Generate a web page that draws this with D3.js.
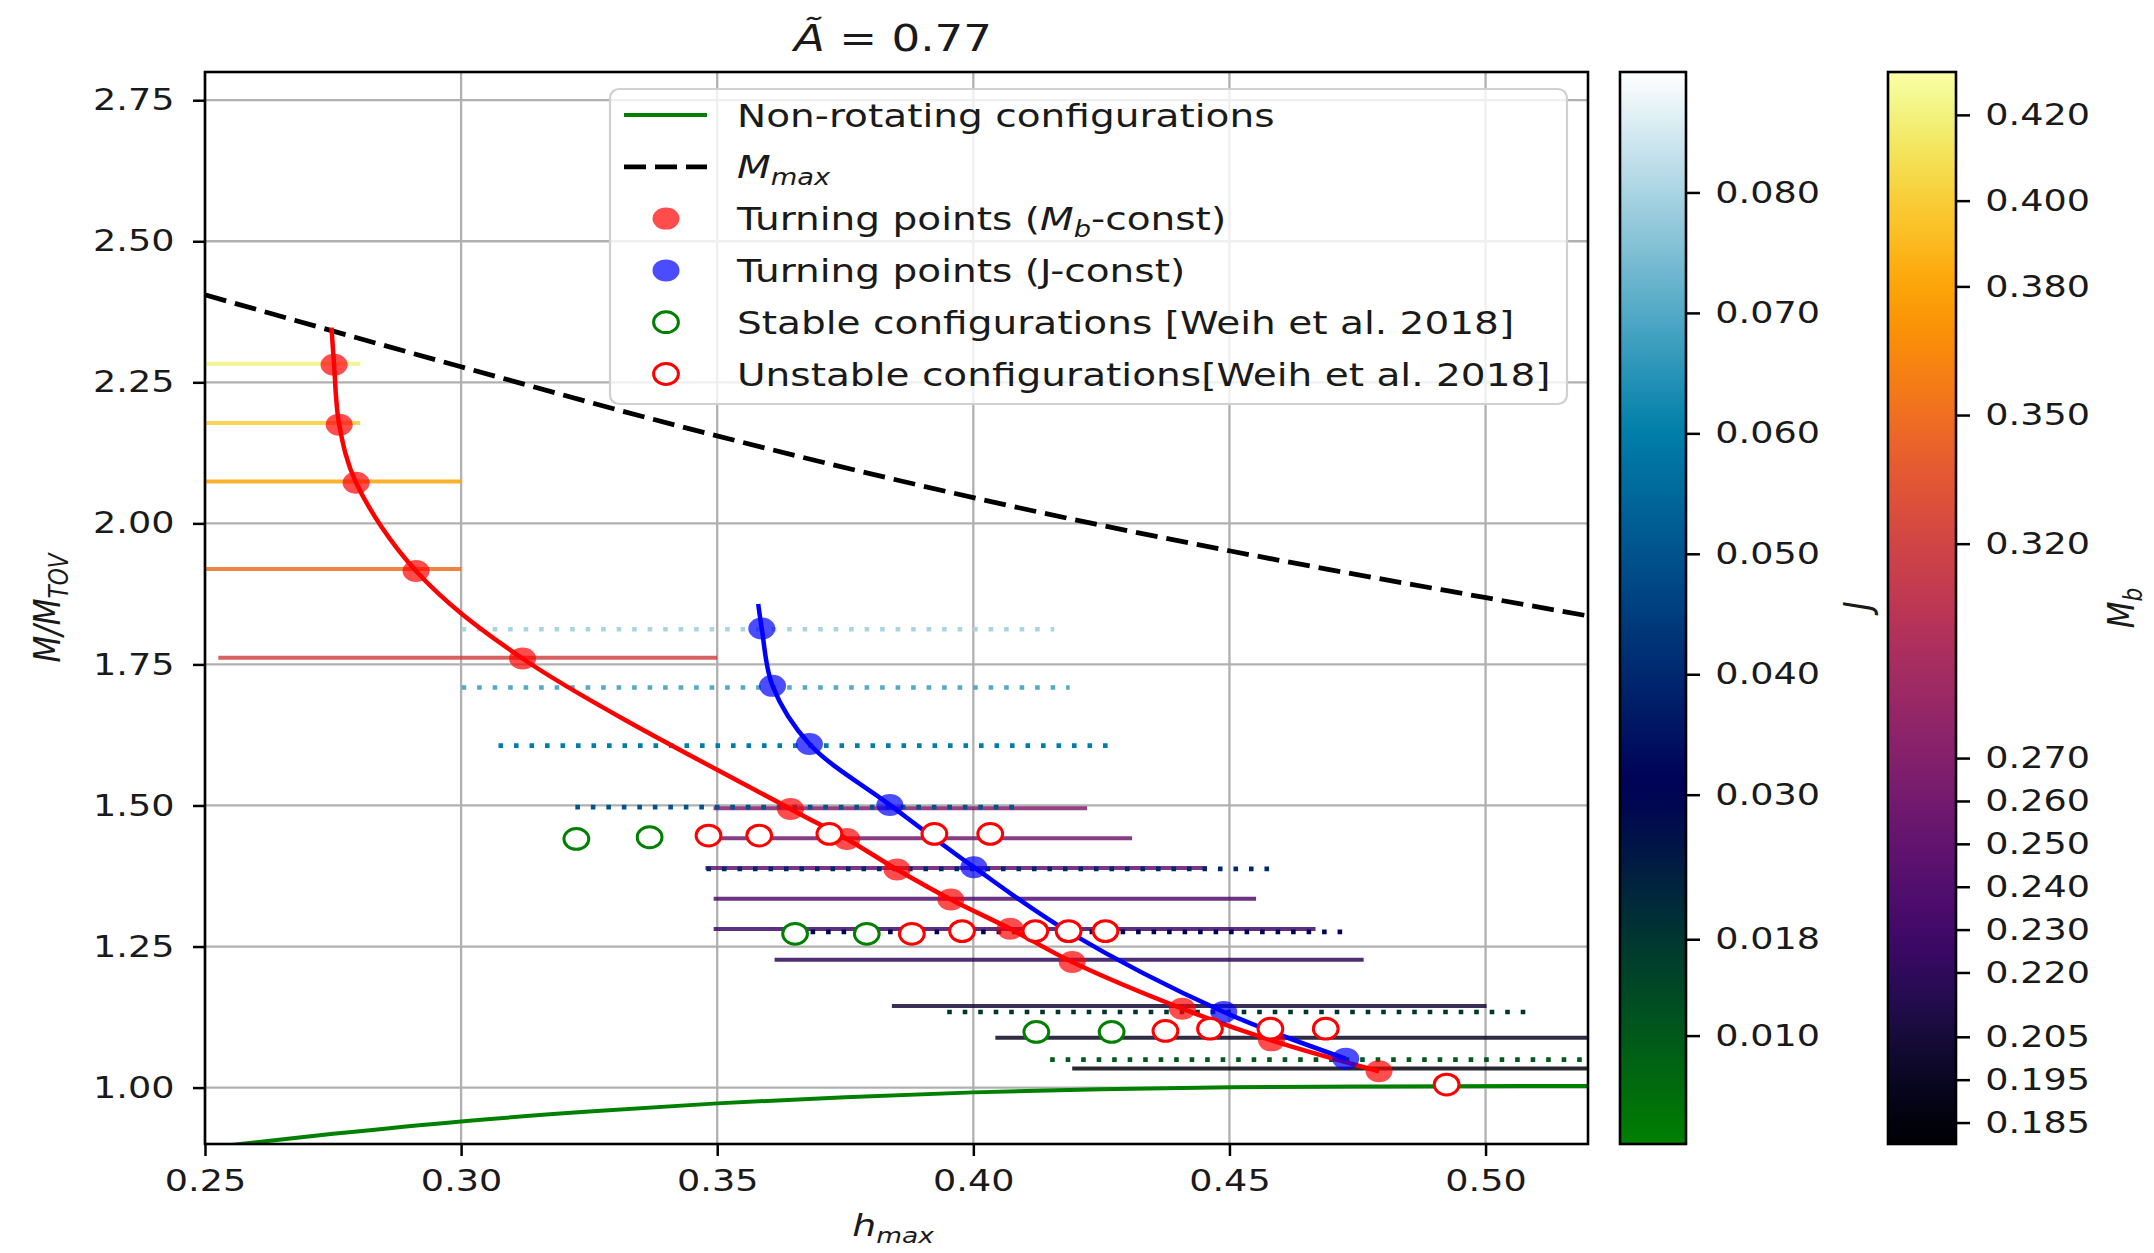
<!DOCTYPE html>
<html>
<head>
<meta charset="utf-8">
<script src="https://cdn.jsdelivr.net/npm/d3@7"></script>
<style>
  html, body { margin: 0; padding: 0; background: #fff; }
  svg { display: block; font-family: "DejaVu Sans", sans-serif; }
</style>
</head>
<body>
<svg id="canvas" width="2154" height="1253"></svg>
<script>
// Axis ticks
const xTicks = [0.25, 0.30, 0.35, 0.40, 0.45, 0.50];
const yTicks = [1.00, 1.25, 1.50, 1.75, 2.00, 2.25, 2.50, 2.75];
const jTicks = [0.080, 0.070, 0.060, 0.050, 0.040, 0.030, 0.018, 0.010];
const mbTicks = [0.420, 0.400, 0.380, 0.350, 0.320, 0.270, 0.260, 0.250, 0.240, 0.230, 0.220, 0.205, 0.195, 0.185];

// Constant baryon mass sequences (one per Mb tick): M/M_TOV level and h_max range
const mbMass = [2.283, 2.178, 2.074, 1.919, 1.762, 1.495, 1.442, 1.389, 1.3345, 1.281, 1.2265, 1.1446, 1.0885, 1.0336];
const mbFrom = [0.24, 0.24, 0.24, 0.24, 0.2526, 0.3493, 0.3483, 0.3477, 0.3493, 0.3493, 0.3612, 0.3841, 0.4043, 0.4193];
const mbTo = [0.2803, 0.2803, 0.300, 0.300, 0.350, 0.4222, 0.431, 0.4456, 0.4552, 0.4668, 0.4762, 0.5002, 0.53, 0.53];

// Constant angular momentum sequences (one per J tick)
const jMass = [1.8124, 1.709, 1.606, 1.497, 1.3876, 1.276, 1.134, 1.0496];
const jFrom = [0.3001, 0.3001, 0.3073, 0.3223, 0.3479, 0.3652, 0.3949, 0.415];
const jTo = [0.4158, 0.4188, 0.4264, 0.4082, 0.458, 0.474, 0.5078, 0.53];

// Turning points, Mb-const (red) and J-const (blue)
const tpMbH = [0.2752, 0.2762, 0.2795, 0.2912, 0.3120, 0.3643, 0.3753, 0.3851, 0.3956, 0.4072, 0.4193, 0.4408, 0.4582, 0.4792];
const tpMbM = [2.281, 2.175, 2.072, 1.9156, 1.7605, 1.4938, 1.4407, 1.3864, 1.3333, 1.2814, 1.2225, 1.1398, 1.0837, 1.0289];
const tpMbTop = [0.2747, 2.347];
const tpJH = [0.3587, 0.3608, 0.368, 0.3837, 0.4001, 0.4186, 0.4489, 0.4727];
const tpJM = [1.8136, 1.712, 1.609, 1.501, 1.3906, 1.276, 1.134, 1.0513];
const tpJTop = [0.358, 1.857];

// Non-rotating configurations
const nrH = [0.25, 0.275, 0.30, 0.325, 0.35, 0.375, 0.40, 0.425, 0.45, 0.48, 0.52];
const nrM = [0.893, 0.918, 0.940, 0.9575, 0.972, 0.983, 0.9915, 0.997, 1.0005, 1.002, 1.003];

// Maximum mass line
const mmH = [0.25, 0.2998, 0.3421, 0.4237, 0.4502, 0.4998, 0.52];
const mmM = [2.405, 2.278, 2.1735, 1.999, 1.951, 1.8687, 1.836];

// Weih et al. 2018 configurations
const stH = [0.3225, 0.3368, 0.3652, 0.3792, 0.4123, 0.4270];
const stM = [1.4407, 1.4437, 1.2726, 1.2726, 1.0986, 1.0986];
const unH = [0.3483, 0.3582, 0.3719, 0.3924, 0.4033, 0.3880, 0.3978, 0.4121, 0.4186, 0.4258, 0.4375, 0.4462, 0.458, 0.4688, 0.4924];
const unM = [1.4466, 1.4466, 1.4496, 1.4496, 1.4496, 1.2726, 1.2773, 1.2773, 1.2773, 1.2773, 1.1004, 1.1044, 1.1044, 1.1044, 1.0053];

// Layout
const W = 2154, H = 1253;
const SX = 1.22; // horizontal stretch of the text in the reference
const plot = { left: 205, right: 1588, top: 72, bottom: 1144 };
const jBar = { left: 1620, right: 1686 };
const mbBar = { left: 1888, right: 1956 };

const svg = d3.select("#canvas");
svg.append("rect").attr("width", W).attr("height", H).attr("fill", "#fff");

const x = d3.scaleLinear().domain([0.25, 0.52]).range([plot.left, plot.right]);
const y = d3.scaleLinear().domain([0.9, 2.8]).range([plot.bottom, plot.top]);
const jScale = d3.scaleLinear().domain([0.001, 0.090]).range([plot.bottom, plot.top]);
const mbScale = d3.scaleLinear().domain([0.18, 0.43]).range([plot.bottom, plot.top]);

// matplotlib "ocean" colormap
const ocean = (t) => {
  const c = (v) => Math.max(0, Math.min(1, v));
  return d3.rgb(255 * c(3 * t - 2), 255 * c(Math.abs((3 * t - 1) / 2)), 255 * c(t)).formatHex();
};
const jColor = (d) => ocean((d - 0.001) / (0.090 - 0.001));
const mbColor = (d) => d3.interpolateInferno((d - 0.18) / 0.25);

const defs = svg.append("defs");
defs.append("clipPath").attr("id", "clip").append("rect")
  .attr("x", plot.left).attr("y", plot.top)
  .attr("width", plot.right - plot.left).attr("height", plot.bottom - plot.top);

// Rich text with italics / subscripts
const richText = (sel, parts, size) => {
  let shift = 0;
  parts.forEach((p) => {
    const ts = sel.append("tspan").text(p.t);
    if (p.it) ts.attr("font-style", "italic");
    const target = p.sub ? size * 0.22 : 0;
    if (target !== shift) {
      ts.attr("dy", target - shift);
      shift = target;
    }
    if (p.sub) ts.attr("font-size", size * 0.7);
  });
};

// Grid
const grid = svg.append("g").attr("stroke", "#b0b0b0").attr("stroke-width", 2.3);
grid.selectAll("line.gx").data(xTicks).join("line").attr("class", "gx")
  .attr("x1", (d) => x(d)).attr("x2", (d) => x(d))
  .attr("y1", plot.top).attr("y2", plot.bottom);
grid.selectAll("line.gy").data(yTicks).join("line").attr("class", "gy")
  .attr("x1", plot.left).attr("x2", plot.right)
  .attr("y1", (d) => y(d)).attr("y2", (d) => y(d));

const layer = svg.append("g").attr("clip-path", "url(#clip)");

// Mb-const sequences
const mbSeq = mbTicks.map((mb, i) => ({ mb, m: mbMass[i], h0: mbFrom[i], h1: mbTo[i] }));
layer.selectAll("line.mb").data(mbSeq).join("line").attr("class", "mb")
  .attr("x1", (d) => x(d.h0)).attr("x2", (d) => x(d.h1))
  .attr("y1", (d) => y(d.m)).attr("y2", (d) => y(d.m))
  .attr("stroke", (d) => mbColor(d.mb))
  .attr("stroke-width", 4)
  .attr("stroke-opacity", 0.85);

// J-const sequences
const jSeq = jTicks.map((j, i) => ({ j, m: jMass[i], h0: jFrom[i], h1: jTo[i] }));
layer.selectAll("line.js").data(jSeq).join("line").attr("class", "js")
  .attr("x1", (d) => x(d.h0)).attr("x2", (d) => x(d.h1))
  .attr("y1", (d) => y(d.m)).attr("y2", (d) => y(d.m))
  .attr("stroke", (d) => jColor(d.j))
  .attr("stroke-width", 4.6)
  .attr("stroke-dasharray", "4.6,10.9");

// Non-rotating and Mmax
const smooth = d3.line().x((d) => x(d[0])).y((d) => y(d[1])).curve(d3.curveMonotoneX);
layer.append("path").datum(nrH.map((h, i) => [h, nrM[i]]))
  .attr("d", smooth).attr("fill", "none").attr("stroke", "green").attr("stroke-width", 4);
layer.append("path").datum(mmH.map((h, i) => [h, mmM[i]]))
  .attr("d", smooth).attr("fill", "none").attr("stroke", "black")
  .attr("stroke-width", 4.8).attr("stroke-dasharray", "22,9");

// Turning point curves
const spline = d3.line().x((d) => x(d[0])).y((d) => y(d[1])).curve(d3.curveCatmullRom.alpha(0.5));
const mbPts = tpMbH.map((h, i) => [h, tpMbM[i]]);
const jPts = tpJH.map((h, i) => [h, tpJM[i]]);
layer.append("path").datum([tpMbTop, ...mbPts])
  .attr("d", spline).attr("fill", "none").attr("stroke", "red").attr("stroke-width", 4.5);
layer.append("path").datum([tpJTop, ...jPts])
  .attr("d", spline).attr("fill", "none").attr("stroke", "blue").attr("stroke-width", 4.5);

// Filled markers
const RX = 13.5, RY = 11;
const ORX = 12.4, ORY = 10.4;
layer.selectAll("ellipse.tpj").data(jPts).join("ellipse").attr("class", "tpj")
  .attr("cx", (d) => x(d[0])).attr("cy", (d) => y(d[1]))
  .attr("rx", RX).attr("ry", RY).attr("fill", "blue").attr("fill-opacity", 0.7);
layer.selectAll("ellipse.tpm").data(mbPts).join("ellipse").attr("class", "tpm")
  .attr("cx", (d) => x(d[0])).attr("cy", (d) => y(d[1]))
  .attr("rx", RX).attr("ry", RY).attr("fill", "red").attr("fill-opacity", 0.7);

// Open markers
layer.selectAll("ellipse.st").data(stH.map((h, i) => [h, stM[i]])).join("ellipse").attr("class", "st")
  .attr("cx", (d) => x(d[0])).attr("cy", (d) => y(d[1]))
  .attr("rx", ORX).attr("ry", ORY).attr("fill", "#fff").attr("stroke", "green").attr("stroke-width", 3);
layer.selectAll("ellipse.un").data(unH.map((h, i) => [h, unM[i]])).join("ellipse").attr("class", "un")
  .attr("cx", (d) => x(d[0])).attr("cy", (d) => y(d[1]))
  .attr("rx", ORX).attr("ry", ORY).attr("fill", "#fff").attr("stroke", "red").attr("stroke-width", 3);

// Axes
const FONT = 30;
const styleAxis = (g) => {
  g.select(".domain").remove();
  g.selectAll(".tick line").attr("stroke", "#000").attr("stroke-width", 2.5);
  g.selectAll(".tick text").attr("font-size", FONT).attr("fill", "#1a1a1a")
    .attr("font-family", "DejaVu Sans").attr("transform", `scale(${SX},1)`);
};
svg.append("g").attr("transform", `translate(0,${plot.bottom})`)
  .call(d3.axisBottom(x).tickValues(xTicks).tickFormat(d3.format(".2f")).tickSize(12).tickPadding(14))
  .call(styleAxis);
svg.append("g").attr("transform", `translate(${plot.left},0)`)
  .call(d3.axisLeft(y).tickValues(yTicks).tickFormat(d3.format(".2f")).tickSize(12).tickPadding(13))
  .call(styleAxis);

svg.append("rect").attr("x", plot.left).attr("y", plot.top)
  .attr("width", plot.right - plot.left).attr("height", plot.bottom - plot.top)
  .attr("fill", "none").attr("stroke", "#000").attr("stroke-width", 2.6);

// Colorbars
const colorbar = (id, bar, scale, interp, ticks) => {
  const grad = defs.append("linearGradient").attr("id", id)
    .attr("x1", 0).attr("y1", 1).attr("x2", 0).attr("y2", 0);
  d3.range(0, 1.0001, 0.02).forEach((t) => {
    grad.append("stop").attr("offset", t).attr("stop-color", interp(t));
  });
  svg.append("rect").attr("x", bar.left).attr("y", plot.top)
    .attr("width", bar.right - bar.left).attr("height", plot.bottom - plot.top)
    .attr("fill", `url(#${id})`).attr("stroke", "#000").attr("stroke-width", 2.6);
  svg.append("g").attr("transform", `translate(${bar.right},0)`)
    .call(d3.axisRight(scale).tickValues(ticks).tickFormat(d3.format(".3f")).tickSize(14).tickPadding(10))
    .call(styleAxis);
};
colorbar("gradJ", jBar, jScale, ocean, jTicks);
colorbar("gradMb", mbBar, mbScale, d3.interpolateInferno, mbTicks);

// Title and axis labels
const label = (tx, ty, rot, parts, size) => {
  const t = svg.append("text")
    .attr("transform", rot
      ? `translate(${tx},${ty}) rotate(-90) scale(1,${SX})`
      : `translate(${tx},${ty}) scale(${SX},1)`)
    .attr("text-anchor", "middle").attr("font-size", size).attr("fill", "#1a1a1a");
  richText(t, parts, size);
};
label(893, 51, false, [{ t: "Ã", it: 1 }, { t: " = 0.77" }], 37);
label(893, 1236, false, [{ t: "h", it: 1 }, { t: "max", it: 1, sub: 1 }], 31);
label(60, 608, true, [{ t: "M/M", it: 1 }, { t: "TOV", it: 1, sub: 1 }], 31);
label(1870, 606, true, [{ t: "J", it: 1 }], 31);
label(2134, 608, true, [{ t: "M", it: 1 }, { t: "b", it: 1, sub: 1 }], 31);

// Legend
const legendBox = { x: 610, y: 89, w: 957, h: 315 };
const LFONT = 32;
const legendItems = [
  { kind: "line", color: "green", parts: [{ t: "Non-rotating configurations" }] },
  { kind: "dash", color: "black", parts: [{ t: "M", it: 1 }, { t: "max", it: 1, sub: 1 }] },
  { kind: "dot", color: "red", parts: [{ t: "Turning points (" }, { t: "M", it: 1 }, { t: "b", it: 1, sub: 1 }, { t: "-const)" }] },
  { kind: "dot", color: "blue", parts: [{ t: "Turning points (J-const)" }] },
  { kind: "ring", color: "green", parts: [{ t: "Stable configurations [Weih et al. 2018]" }] },
  { kind: "ring", color: "red", parts: [{ t: "Unstable configurations[Weih et al. 2018]" }] },
];
const legend = svg.append("g");
legend.append("rect").attr("x", legendBox.x).attr("y", legendBox.y)
  .attr("width", legendBox.w).attr("height", legendBox.h).attr("rx", 9)
  .attr("fill", "#fff").attr("fill-opacity", 0.8).attr("stroke", "#d0d0d0").attr("stroke-width", 2.2);

const rows = legend.selectAll("g.row").data(legendItems).join("g").attr("class", "row")
  .attr("transform", (d, i) => `translate(0,${legendBox.y + 26 + i * 51.8})`);
rows.each(function (d) {
  const g = d3.select(this);
  if (d.kind === "line" || d.kind === "dash") {
    g.append("line").attr("x1", 624).attr("x2", 707).attr("y1", 0).attr("y2", 0)
      .attr("stroke", d.color)
      .attr("stroke-width", d.kind === "dash" ? 4.8 : 4)
      .attr("stroke-dasharray", d.kind === "dash" ? "22,9" : null);
  } else if (d.kind === "dot") {
    g.append("ellipse").attr("cx", 666).attr("cy", 0).attr("rx", RX).attr("ry", RY)
      .attr("fill", d.color).attr("fill-opacity", 0.7);
  } else {
    g.append("ellipse").attr("cx", 666).attr("cy", 0).attr("rx", ORX).attr("ry", ORY)
      .attr("fill", "#fff").attr("stroke", d.color).attr("stroke-width", 3);
  }
  const t = g.append("text").attr("transform", `translate(737,0) scale(${SX},1)`)
    .attr("y", LFONT * 0.36).attr("font-size", LFONT).attr("fill", "#1a1a1a");
  richText(t, d.parts, LFONT);
});
</script>
</body>
</html>
